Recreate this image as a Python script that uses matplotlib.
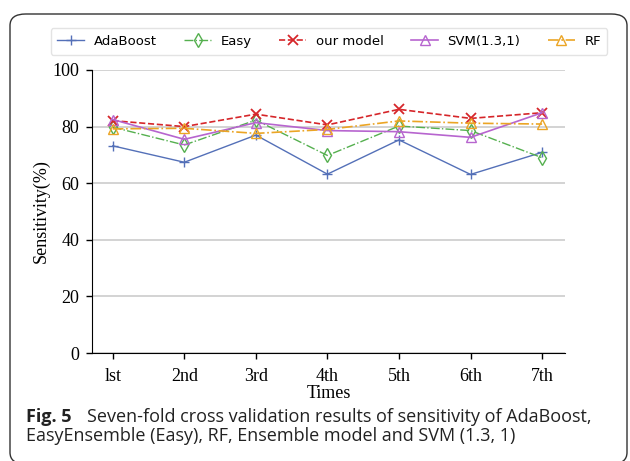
import matplotlib.pyplot as plt
from matplotlib.patches import FancyBboxPatch

times = ['lst', '2nd', '3rd', '4th', '5th', '6th', '7th']
adaboost = [73.2, 67.4, 77.0, 63.2, 75.3, 63.1, 70.9]
easy = [79.8, 73.5, 82.3, 69.8, 80.2, 78.6, 69.0]
our_model = [82.1, 80.0, 84.4, 80.6, 86.1, 82.9, 84.9]
svm = [82.5, 75.5, 81.4, 78.6, 78.2, 76.2, 84.9]
rf = [79.2, 79.4, 77.6, 79.0, 82.0, 81.2, 80.9]

serif = ['Liberation Serif', 'DejaVu Serif']
W, H = 630, 461

fig = plt.figure(figsize=(6.3, 4.61), dpi=100)

# rounded frame around the figure
frame = FancyBboxPatch((10 / W, -3 / H), 617 / W, 450 / H,
                       boxstyle='round,pad=0,rounding_size=0.025',
                       transform=fig.transFigure, fill=False,
                       edgecolor='#333333', linewidth=1.0)
fig.patches.append(frame)

ax = fig.add_axes([92 / W, 108 / H, 473 / W, 283 / H])
x = list(range(len(times)))

ax.set_axisbelow(True)
ax.grid(axis='y', color='#cccccc', lw=1.2)

ax.plot(x, adaboost, color='#5470b8', lw=1.0, marker='+', ms=7, mew=1.0, label='AdaBoost')
ax.plot(x, easy, color='#55b04f', lw=1.0, ls='-.', marker='d', ms=7, mfc='none', mew=1.0, label='Easy')
ax.plot(x, our_model, color='#d6262a', lw=1.2, ls='--', marker='x', ms=6.5, mew=1.3, label='our model')
ax.plot(x, svm, color='#b765cf', lw=1.2, marker='^', ms=6.5, mfc='none', mew=1.0, label='SVM(1.3,1)')
ax.plot(x, rf, color='#eba525', lw=1.2, ls='-.', marker='^', ms=6.5, mfc='none', mew=1.0, label='RF')

ax.set_xlim(-0.29, 6.32)
ax.set_ylim(0, 100)
ax.set_xticks(x)
ax.set_xticklabels(times, family=serif, fontsize=13)
ax.set_yticks([0, 20, 40, 60, 80, 100])
ax.set_yticklabels(['0', '20', '40', '60', '80', '100'], family=serif, fontsize=13)
ax.tick_params(length=4, width=1.0, pad=5)
ax.tick_params(axis='x', pad=7)
ax.set_xlabel('Times', family=serif, fontsize=13, labelpad=0)
ax.set_ylabel('Sensitivity(%)', family=serif, fontsize=13, labelpad=2)
ax.spines['top'].set_visible(False)
ax.spines['right'].set_visible(False)

fig.legend(loc='center', bbox_to_anchor=(329 / W, 1 - 41.5 / H), ncol=5,
           handlelength=2.05, handletextpad=0.7,
           columnspacing=2.1, borderpad=0.5, edgecolor='#dddddd', fancybox=True,
           prop={'family': 'DejaVu Sans', 'size': 9.5})

cap = dict(fontsize=13, family='Open Sans', va='center', color='#222222')
fig.text(26 / W, 1 - 417 / H, 'Fig. 5', fontweight='bold', **cap)
fig.text(87 / W, 1 - 417 / H, 'Seven-fold cross validation results of sensitivity of AdaBoost,', **cap)
fig.text(26 / W, 1 - 436 / H, 'EasyEnsemble (Easy), RF, Ensemble model and SVM (1.3, 1)', **cap)

fig.savefig('out.png', dpi=100)
